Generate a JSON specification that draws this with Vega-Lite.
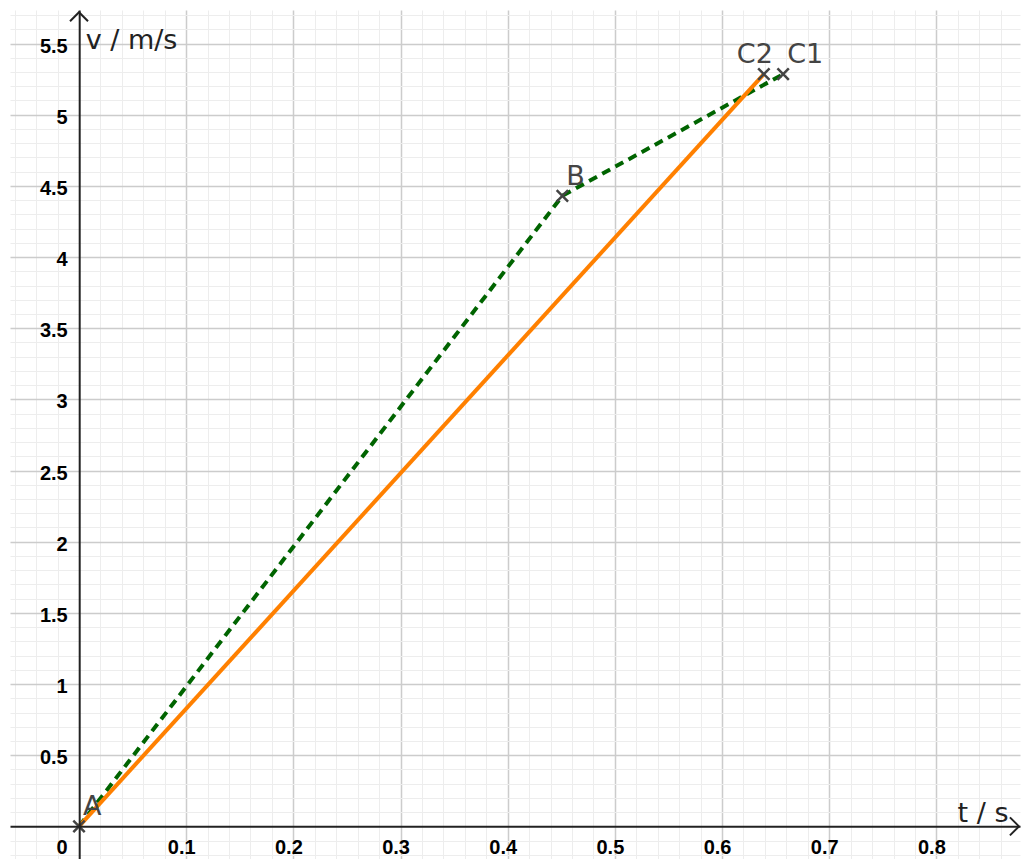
{
  "$schema": "https://vega.github.io/schema/vega-lite/v6.json",
  "width": 1023,
  "height": 859,
  "autosize": {"type": "fit", "contains": "padding"},
  "padding": {"left": 10, "top": 8, "right": 0, "bottom": 0},
  "background": "white",
  "config": {"view": {"stroke": null}},
  "datasets": {
    "lines": [
      {"series": "measured", "t": 0, "v": 0, "o": 0},
      {"series": "measured", "t": 0.451, "v": 4.43, "o": 1},
      {"series": "measured", "t": 0.657, "v": 5.285, "o": 2},
      {"series": "fit", "t": 0, "v": 0, "o": 0},
      {"series": "fit", "t": 0.639, "v": 5.285, "o": 1}
    ],
    "points": [
      {"name": "A", "t": 0, "v": 0},
      {"name": "B", "t": 0.451, "v": 4.43},
      {"name": "C2", "t": 0.639, "v": 5.285},
      {"name": "C1", "t": 0.657, "v": 5.285}
    ]
  },
  "layer": [
    {
      "data": {"name": "lines"},
      "transform": [{"filter": "datum.series == 'measured'"}],
      "mark": {"type": "line", "color": "#006400", "strokeWidth": 4, "strokeDash": [9, 6]},
      "encoding": {
        "x": {"field": "t", "type": "quantitative", "scale": {"domain": [-0.0644, 0.878], "nice": false, "zero": false},
          "axis": {"orient": "top", "values": [-0.06,-0.04,-0.02,0.02,0.04,0.06,0.08,0.12,0.14,0.16,0.18,0.22,0.24,0.26,0.28,0.32,0.34,0.36,0.38,0.42,0.44,0.46,0.48,0.52,0.54,0.56,0.58,0.62,0.64,0.66,0.68,0.72,0.74,0.76,0.78,0.82,0.84,0.86],
            "grid": true, "gridColor": "#ededed", "gridWidth": 1, "labels": false, "ticks": false, "domain": false, "title": null, "zindex": 0}},
        "y": {"field": "v", "type": "quantitative", "scale": {"domain": [-0.2292, 5.7356], "nice": false, "zero": false},
          "axis": {"orient": "right", "values": [-0.2,-0.1,0.1,0.2,0.3,0.4,0.6,0.7,0.8,0.9,1.1,1.2,1.3,1.4,1.6,1.7,1.8,1.9,2.1,2.2,2.3,2.4,2.6,2.7,2.8,2.9,3.1,3.2,3.3,3.4,3.6,3.7,3.8,3.9,4.1,4.2,4.3,4.4,4.6,4.7,4.8,4.9,5.1,5.2,5.3,5.4,5.6,5.7],
            "grid": true, "gridColor": "#ededed", "gridWidth": 1, "labels": false, "ticks": false, "domain": false, "title": null, "zindex": 0}},
        "order": {"field": "o", "type": "quantitative"}
      }
    },
    {
      "data": {"name": "lines"},
      "transform": [{"filter": "datum.series == 'fit'"}],
      "mark": {"type": "line", "color": "#ff8000", "strokeWidth": 4},
      "encoding": {
        "x": {"field": "t", "type": "quantitative", "scale": {"domain": [-0.0644, 0.878], "nice": false, "zero": false},
          "axis": {"orient": "top", "values": [0.1,0.2,0.3,0.4,0.5,0.6,0.7,0.8],
            "grid": true, "gridColor": "#cccccc", "gridWidth": 1.5, "labels": false, "ticks": false, "domain": false, "title": null, "zindex": 0}},
        "y": {"field": "v", "type": "quantitative", "scale": {"domain": [-0.2292, 5.7356], "nice": false, "zero": false},
          "axis": {"orient": "right", "values": [0.5,1,1.5,2,2.5,3,3.5,4,4.5,5,5.5],
            "grid": true, "gridColor": "#cccccc", "gridWidth": 1.5, "labels": false, "ticks": false, "domain": false, "title": null, "zindex": 0}},
        "order": {"field": "o", "type": "quantitative"}
      }
    },
    {
      "data": {"name": "points"},
      "mark": {"type": "point", "shape": "M-1,-1L1,1M-1,1L1,-1", "filled": false, "color": "#444444", "strokeWidth": 2.5, "size": 130, "opacity": 1},
      "encoding": {
        "x": {"field": "t", "type": "quantitative", "scale": {"domain": [-0.0644, 0.878], "nice": false, "zero": false},
          "axis": {"orient": "bottom", "offset": -32.7, "values": [0,0.1,0.2,0.3,0.4,0.5,0.6,0.7,0.8], "format": "~g",
            "grid": false, "ticks": false, "tickSize": 0, "domain": true, "domainColor": "#222222", "domainWidth": 2,
            "labelFont": "Liberation Sans", "labelFontSize": 20, "labelFontWeight": "bold", "labelColor": "#000000",
            "labelAlign": {"condition": {"test": "datum.value == 0", "value": "right"}, "value": "center"},
            "labelOffset": {"condition": {"test": "datum.value == 0", "value": -12}, "value": -5},
            "labelBaseline": "alphabetic", "labelPadding": 26.7, "labelFlush": false, "labelOverlap": false,
            "title": "t / s", "titleFont": "DejaVu Sans", "titleFontSize": 27, "titleFontWeight": "normal", "titleColor": "#222222",
            "titleAlign": "right", "titleBaseline": "alphabetic", "titleAngle": 0, "titleX": 998, "titleY": -4.5, "zindex": 1}},
        "y": {"field": "v", "type": "quantitative", "scale": {"domain": [-0.2292, 5.7356], "nice": false, "zero": false},
          "axis": {"orient": "left", "offset": -69.2, "values": [0.5,1,1.5,2,2.5,3,3.5,4,4.5,5,5.5], "format": "~g",
            "grid": false, "ticks": false, "tickSize": 0, "domain": true, "domainColor": "#222222", "domainWidth": 2,
            "labelFont": "Liberation Sans", "labelFontSize": 20, "labelFontWeight": "bold", "labelColor": "#000000",
            "labelAlign": "right", "labelBaseline": "middle", "labelPadding": 12, "labelOffset": 2.5, "labelFlush": false, "labelOverlap": false,
            "title": "v / m/s", "titleFont": "DejaVu Sans", "titleFontSize": 27, "titleFontWeight": "normal", "titleColor": "#222222",
            "titleAlign": "left", "titleBaseline": "alphabetic", "titleAngle": 0, "titleX": 6, "titleY": 38.5, "zindex": 1}}
      }
    },
    {
      "data": {"name": "points"},
      "transform": [{"filter": "datum.name != 'C2'"}],
      "mark": {"type": "text", "align": "left", "baseline": "alphabetic", "dx": 4, "dy": -11, "font": "DejaVu Sans", "fontSize": 27, "color": "#444444"},
      "encoding": {
        "x": {"field": "t", "type": "quantitative", "scale": {"domain": [-0.0644, 0.878], "nice": false, "zero": false}, "axis": null},
        "y": {"field": "v", "type": "quantitative", "scale": {"domain": [-0.2292, 5.7356], "nice": false, "zero": false}, "axis": null},
        "text": {"field": "name"}
      }
    },
    {
      "data": {"name": "points"},
      "transform": [{"filter": "datum.name == 'C2'"}],
      "mark": {"type": "text", "align": "right", "baseline": "alphabetic", "dx": 9, "dy": -11, "font": "DejaVu Sans", "fontSize": 27, "color": "#444444"},
      "encoding": {
        "x": {"field": "t", "type": "quantitative", "scale": {"domain": [-0.0644, 0.878], "nice": false, "zero": false}, "axis": null},
        "y": {"field": "v", "type": "quantitative", "scale": {"domain": [-0.2292, 5.7356], "nice": false, "zero": false}, "axis": null},
        "text": {"field": "name"}
      }
    },
    {
      "data": {"values": [{}]},
      "mark": {"type": "point", "shape": "M-1,-1L0,0L-1,1", "filled": false, "color": "#222222", "strokeWidth": 2, "size": 324, "opacity": 1},
      "encoding": {
        "x": {"datum": 0.877, "type": "quantitative", "scale": {"domain": [-0.0644, 0.878], "nice": false, "zero": false}, "axis": null},
        "y": {"datum": 0, "type": "quantitative", "scale": {"domain": [-0.2292, 5.7356], "nice": false, "zero": false}, "axis": null}
      }
    },
    {
      "data": {"values": [{}]},
      "mark": {"type": "point", "shape": "M-1,1L0,0L1,1", "filled": false, "color": "#222222", "strokeWidth": 2, "size": 324, "opacity": 1},
      "encoding": {
        "x": {"datum": 0, "type": "quantitative", "scale": {"domain": [-0.0644, 0.878], "nice": false, "zero": false}, "axis": null},
        "y": {"datum": 5.72, "type": "quantitative", "scale": {"domain": [-0.2292, 5.7356], "nice": false, "zero": false}, "axis": null}
      }
    }
  ],
  "resolve": {"axis": {"x": "independent", "y": "independent"}}
}
